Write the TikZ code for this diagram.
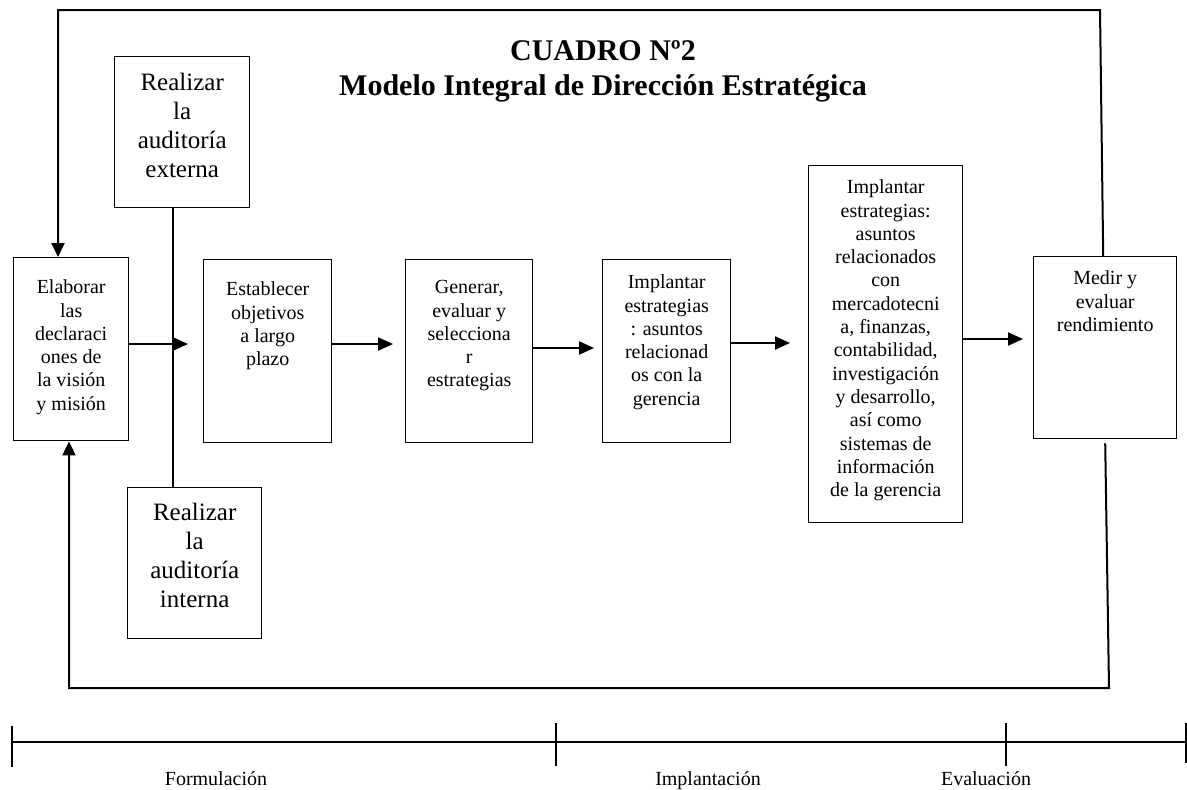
\documentclass[tikz,border=0pt]{standalone}
\usepackage{fontspec}
\setmainfont{Liberation Serif}
\usetikzlibrary{arrows.meta}
\tikzset{
  stagebox/.style={draw=black, line width=0.7pt, anchor=north west, align=flush center,
                   inner xsep=0pt, inner ysep=0pt, font=\fontsize{10}{11.65}\selectfont},
  auditbox/.style={stagebox, font=\fontsize{12.5}{14.45}\selectfont},
  flow/.style={-{Triangle[length=7.5pt, width=6.5pt]}, line width=1.1pt},
  loopline/.style={line width=1pt},
  tie/.style={line width=0.6pt},
  axis/.style={line width=0.9pt},
  phase/.style={font=\fontsize{10}{12}\selectfont, anchor=base},
  ttl/.style={font=\bfseries\fontsize{15}{17.5}\selectfont, align=center, anchor=north, inner sep=0pt}
}

\begin{document}
\begin{tikzpicture}[x=0.5pt, y=-0.5pt]
  \useasboundingbox (0,0) rectangle (1187,789);

  \node[ttl] (title) at (603,40) {CUADRO Nº2\\Modelo Integral de Dirección Estratégica};

  % boxes
  \node[auditbox, text width=67.5pt, text height=17pt, text depth=58.5pt] (ext) at (114,56)
    {Realizar\\la\\auditoría\\externa};
  \node[auditbox, text width=67pt, text height=16.5pt, text depth=59pt] (int) at (127,487)
    {Realizar\\la\\auditoría\\interna};
  \node[stagebox, text width=57.5pt, text height=18pt, text depth=73.5pt] (elab) at (13,257)
    {Elaborar\\las\\declaraci\\ones de\\la visión\\y misión};
  \node[stagebox, text width=64pt, text height=18pt, text depth=73.5pt] (estab) at (203,259)
    {Establecer\\objetivos\\a largo\\plazo};
  \node[stagebox, text width=63.5pt, text height=17pt, text depth=74.5pt] (gen) at (405,259)
    {Generar,\\evaluar y\\selecciona\\r\\estrategias};
  \node[stagebox, text width=64pt, text height=14.5pt, text depth=77pt] (impl) at (602,259)
    {Implantar\\estrategias\\: asuntos\\relacionad\\os con la\\gerencia};
  \node[stagebox, text width=77pt, text height=14pt, text depth=164.5pt] (implf) at (808,165)
    {Implantar\\estrategias:\\asuntos\\relacionados\\con\\mercadotecni\\a, finanzas,\\contabilidad,\\investigación\\y desarrollo,\\así como\\sistemas de\\información\\de la gerencia};
  \node[stagebox, text width=71.5pt, text height=14pt, text depth=77pt] (medir) at (1033,256)
    {Medir y\\evaluar\\rendimiento};

  % main flow
  \coordinate (aud) at (173,344);
  \draw[tie] (ext.south -| aud) -- (int.north -| aud);
  \draw[flow, shorten >=7.5pt] (elab.east |- 0,344) -- (estab.west |- 0,344);
  \draw[flow, shorten >=6pt] (estab.east |- 0,344) -- (gen.west |- 0,344);
  \draw[flow, shorten >=4pt] (gen.east |- 0,348) -- (impl.west |- 0,348);
  \draw[flow, shorten >=9pt] (impl.east |- 0,343) -- (implf.west |- 0,343);
  \draw[flow, shorten >=5pt] (implf.east |- 0,339) -- (medir.west |- 0,339);

  % feedback loops
  \coordinate (topR) at (1100,10);
  \coordinate (topL) at (58,10);
  \coordinate (botR) at (1109,688);
  \coordinate (botL) at (69,688);
  \draw[loopline, -{Triangle[length=7pt, width=6.5pt]}] ([xshift=-1pt]medir.north) -- (topR) -- (topL) -- (elab.north -| topL);
  \draw[loopline, -{Triangle[length=7pt, width=6.5pt]}] ([yshift=-2pt]medir.south) -- (botR) -- (botL) -- (elab.south -| botL);

  % phases
  \draw[axis] (12,742) -- (1186,742);
  \foreach \x/\t/\b in {12/726/767, 556/723/766, 1006/723/766, 1186/723/763}
    \draw[tie] (\x,\t) -- (\x,\b);
  \node[phase] (formul) at (216,785) {Formulación};
  \node[phase] (implant) at (708,785) {Implantación};
  \node[phase] (evalu) at (986,785) {Evaluación};
\end{tikzpicture}
\end{document}
